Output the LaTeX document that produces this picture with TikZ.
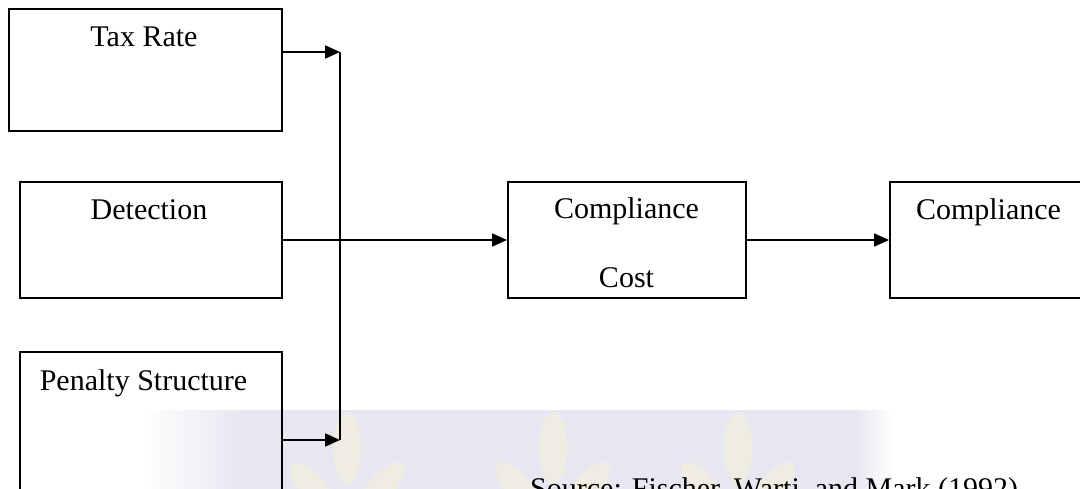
\documentclass[tikz,border=0pt]{standalone}
\usepackage{fontspec}
\setmainfont{Liberation Serif}
\usetikzlibrary{arrows.meta}
\definecolor{band}{HTML}{E7E7F1}
\definecolor{leaf}{HTML}{EFECE2}
\tikzset{
  box/.style={draw=black, line width=2pt, rectangle, inner sep=0pt},
  lbl/.style={anchor=base, inner sep=0pt, font=\fontsize{30}{36}\selectfont},
  conn/.style={line width=2pt},
  arr/.style={line width=2pt, -{Triangle[length=15pt,width=13pt]}},
}
\begin{document}
\begin{tikzpicture}[x=1pt, y=-1pt]
\useasboundingbox (0,0) rectangle (1080,489);
\clip (0,0) rectangle (1080,489);
% watermark band
\shade[left color=white, right color=band] (143,410) rectangle (240,489);
\fill[band] (240,410) rectangle (855,489);
\shade[left color=band, right color=white] (855,410) rectangle (892,489);
\foreach \cx in {347,553,738}{
  \fill[leaf] (\cx,448) ellipse [x radius=14, y radius=36];
  \fill[leaf, rotate around={40:(\cx-34,488)}] (\cx-34,488) ellipse [x radius=13, y radius=32];
  \fill[leaf, rotate around={-40:(\cx+34,488)}] (\cx+34,488) ellipse [x radius=13, y radius=32];
}
% boxes
\node[box, minimum width=273pt, minimum height=122pt] (tax) at (145.5,70) {};
\node[box, minimum width=262pt, minimum height=116pt] (det) at (151,240) {};
\node[box, minimum width=262pt, minimum height=248pt] (pen) at (151,476) {};
\node[box, minimum width=238pt, minimum height=116pt] (cc) at (627,240) {};
\node[box, minimum width=310pt, minimum height=116pt] (comp) at (1045,240) {};
% labels
\node[lbl] (taxt) at (144,47) {Tax Rate};
\node[lbl] (dett) at (149,220) {Detection};
\node[lbl] (pent) at (143.5,390) {Penalty Structure};
\node[lbl] (cct1) at (626.5,219) {Compliance};
\node[lbl] (cct2) at (626.5,288) {Cost};
\node[lbl] (compt) at (988.5,220) {Compliance};
\node[lbl, anchor=base west] (src) at (530,498) {Source: Fischer, Warti, and Mark (1992)};
% connectors
\coordinate (jtop) at (340,52);
\coordinate (jbot) at (340,440);
\draw[arr] (tax.east |- jtop) -- (jtop);
\draw[conn] (jtop) -- (jbot);
\draw[arr] (pen.east |- jbot) -- (jbot);
\draw[arr] (det.east) -- (cc.west);
\draw[arr] (cc.east) -- (comp.west);
\end{tikzpicture}
\end{document}
